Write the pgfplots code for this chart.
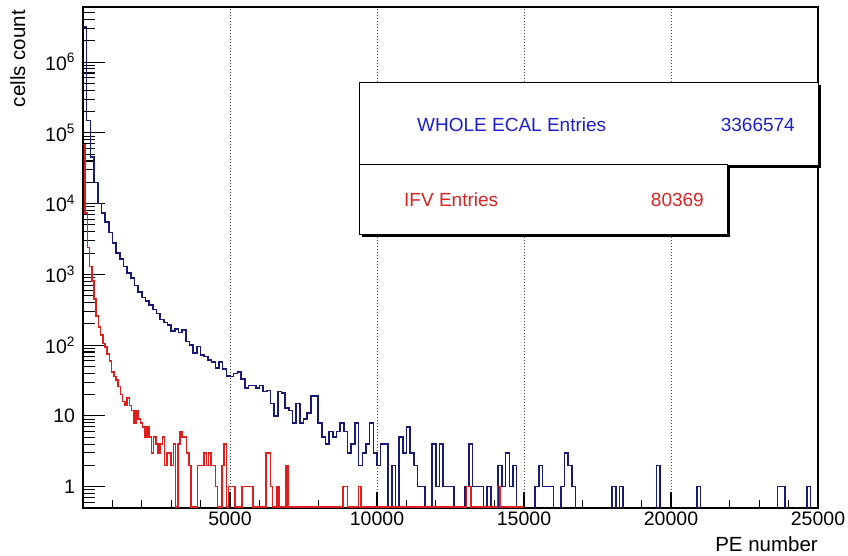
\documentclass[border=0pt]{standalone}
\usepackage{fontspec}
\setmainfont{Liberation Sans}
\usepackage{pgfplots}
\pgfplotsset{compat=1.18}
\usepackage{pgfplotstable}
\definecolor{histblue}{RGB}{25,25,120}
\definecolor{histred}{RGB}{225,30,30}
\definecolor{legblue}{RGB}{30,30,210}
\definecolor{legred}{RGB}{220,35,35}
\definecolor{gridgray}{RGB}{70,70,70}

% WHOLE ECAL: 200 bins of 125 over 0-25000 (left bin edges; 0.45 = empty bin)
\pgfplotstableread{
x y
0 3100000
125 150000
250 46000
375 20000
500 10000
625 7400
750 5500
875 3900
1000 2800
1125 2000
1250 1650
1375 1300
1500 1050
1625 890
1750 700
1875 560
2000 470
2125 420
2250 370
2375 320
2500 280
2625 230
2750 210
2875 194
3000 160
3125 169
3250 151
3375 165
3500 113
3625 100
3750 78
3875 96
4000 73
4125 69
4250 62
4375 58
4500 48
4625 58
4750 46
4875 37
5000 36
5125 40
5250 42
5375 33
5500 25
5625 27
5750 27
5875 25
6000 27
6125 22
6250 23
6375 15
6500 10
6625 22
6750 21
6875 13
7000 12
7125 8
7250 15
7375 8
7500 9
7625 11
7750 19
7875 19
8000 8
8125 5
8250 4
8375 6
8500 5
8625 6
8750 8
8875 6
9000 3
9125 4
9250 8
9375 2
9500 3
9625 4
9750 8
9875 3
10000 2
10125 4
10250 4
10375 0.45
10500 2
10625 0.45
10750 5
10875 3
11000 7
11125 3
11250 2
11375 1
11500 1
11625 0.45
11875 4
12000 1
12125 4
12250 1
12375 1
12500 1
12625 0.45
13000 1
13125 4
13250 1
13375 1
13500 1
13625 0.45
13750 1
13875 0.45
14125 2
14250 1
14375 3
14500 1
14625 2
14750 0.45
15375 1
15500 2
15625 1
15750 1
15875 1
16000 0.45
16250 1
16375 3
16500 2
16625 1
16750 0.45
18000 1
18125 0.45
18250 1
18375 0.45
19500 2
19625 0.45
20875 1
21000 0.45
23625 1
23750 1
23875 0.45
24625 1
24750 0.45
25000 0.45
}\bluetab

% IFV: 200 bins of 75 over 0-15000 (0.515 = empty bin)
\pgfplotstableread{
x y
0 68000
75 7400
150 2400
225 1300
300 800
375 450
450 260
525 180
600 140
675 105
750 95
825 75
900 60
975 42
1050 36
1125 32
1200 26
1275 20
1350 16
1425 14
1500 18
1575 14
1650 12
1725 8
1800 12
1875 9
1950 8
2025 7
2100 5
2175 7
2250 5
2325 3
2400 5
2475 4
2550 3
2625 4
2700 5
2775 2
2850 3
2925 3
3000 2
3075 4
3150 0.515
3225 4
3300 6
3375 5
3450 5
3525 3
3600 2
3675 0.515
3900 2
3975 2
4050 2
4125 3
4200 2
4275 3
4350 2
4425 2
4500 1
4575 0.515
4725 2
4800 4
4875 0.515
4950 1
5025 1
5100 1
5175 0.515
5400 1
5475 1
5550 1
5625 1
5700 1
5775 0.515
6225 3
6300 3
6375 1
6450 0.515
6600 1
6675 0.515
6900 2
6975 0.515
8850 1
8925 1
9000 0.515
9375 1
9450 0.515
13050 1
13125 1
13200 0.515
14100 1
14175 0.515
15000 0.515
}\redtab

\begin{document}
\begin{tikzpicture}
\useasboundingbox (0,0) rectangle (848bp,556bp);
\begin{axis}[
  at={(83bp,48bp)}, anchor=south west,
  width=735bp, height=501bp, scale only axis,
  ymode=log,
  xmin=0, xmax=25000, ymin=0.5, ymax=6e6,
  scaled x ticks=false,
  axis line style={line width=1.2bp},
  tick align=inside,
  xtick pos=bottom, ytick pos=left,
  xtick={5000,10000,15000,20000,25000},
  xticklabels={5000,10000,15000,20000,25000},
  minor xtick={1000,2000,3000,4000,6000,7000,8000,9000,11000,12000,13000,14000,16000,17000,18000,19000,21000,22000,23000,24000},
  ytick={1,10,100,1000,10000,100000,1000000},
  yticklabels={1,10,10\textsuperscript{2},10\textsuperscript{3},10\textsuperscript{4},10\textsuperscript{5},10\textsuperscript{6}},
  minor ytick={0.6,0.7,0.8,0.9,2,3,4,5,6,7,8,9,20,30,40,50,60,70,80,90,200,300,400,500,600,700,800,900,2000,3000,4000,5000,6000,7000,8000,9000,2e4,3e4,4e4,5e4,6e4,7e4,8e4,9e4,2e5,3e5,4e5,5e5,6e5,7e5,8e5,9e5,2e6,3e6,4e6,5e6},
  xtick style={/pgfplots/major tick length=16bp,/pgfplots/minor tick length=8bp},
  ytick style={/pgfplots/major tick length=22bp,/pgfplots/minor tick length=12bp},
  every tick/.style={black, line width=1.1bp},
  xmajorgrids,
  grid style={gridgray, line width=1bp, dash pattern=on 1bp off 2bp},
  ticklabel style={font=\fontsize{19.5bp}{22bp}\selectfont},
  yticklabel style={xshift=-4.5bp},
]
\addplot[const plot mark left, histblue, line width=1.6bp, mark=none] table[x=x,y=y]{\bluetab};
\addplot[const plot mark left, histred, line width=1.6bp, mark=none] table[x=x,y=y]{\redtab};
\end{axis}
% axis titles
\node[rotate=90, anchor=base east, inner sep=0pt, font=\fontsize{20.5bp}{24bp}\selectfont] at (25bp,546bp) {cells count};
\node[anchor=base east, inner sep=0pt, font=\fontsize{20.5bp}{24bp}\selectfont] at (818bp,4.3bp) {PE number};
% legend boxes (ROOT style with shadow)
\fill[black] (362bp,388bp) rectangle (821bp,471bp);
\draw[black, line width=0.8bp, fill=white] (359bp,391bp) rectangle (818bp,474bp);
\fill[black] (362bp,319bp) rectangle (730bp,389bp);
\draw[black, line width=0.8bp, fill=white] (359bp,322bp) rectangle (727bp,392bp);
\node[anchor=base west, inner sep=0pt, text=legblue, font=\fontsize{19bp}{22bp}\selectfont] at (417bp,424.3bp) {WHOLE ECAL Entries};
\node[anchor=base east, inner sep=0pt, text=legblue, font=\fontsize{19bp}{22bp}\selectfont] at (795bp,424.3bp) {3366574};
\node[anchor=base west, inner sep=0pt, text=legred, font=\fontsize{19bp}{22bp}\selectfont] at (404bp,349.3bp) {IFV Entries};
\node[anchor=base east, inner sep=0pt, text=legred, font=\fontsize{19bp}{22bp}\selectfont] at (704bp,349.3bp) {80369};
\end{tikzpicture}
\end{document}
